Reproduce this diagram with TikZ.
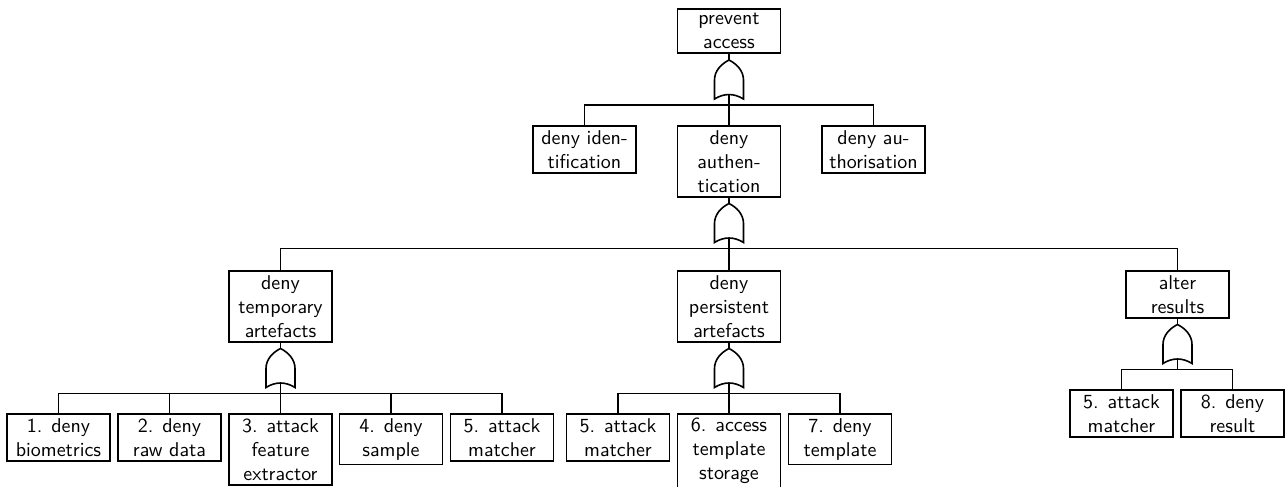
\documentclass[tikz,border=0pt]{standalone}
\usepackage{fontspec}
\usetikzlibrary{calc}
\tikzset{
  event/.style={draw, line width=0.8pt, align=center, anchor=north,
    minimum width=51.5pt, inner xsep=2pt, inner ysep=2.2pt, font=\sffamily},
  wire/.style={line width=0.8pt},
  orgate/.pic={
    \draw[wire] (0,0) .. controls (-8,4) and (-14.5,11) .. (-14.5,20)
      -- (-14.5,39) .. controls (-5,33) and (5,33) .. (14.5,39)
      -- (14.5,20) .. controls (14.5,11) and (8,4) .. (0,0) -- cycle;
  }
}
% OR gate hanging below an event, with its output bar
\newcommand\orbranch[1]{%
  \coordinate (#1-top) at ($(#1.south)+(0,6)$);
  \coordinate (#1-in) at ($(#1.south)+(0,40.5)$);
  \coordinate (#1-bar) at ($(#1.south)+(0,51)$);
  \draw[wire] (#1.south) -- (#1-top);
  \pic at (#1-top) {orgate};
  \draw[wire] (#1-in) -- (#1-bar);
}
\begin{document}
\begin{tikzpicture}[x=0.5pt, y=-0.5pt]
\useasboundingbox (0,0) rectangle (1287,487);

% top event
\node[event] (pa) at (729,8) {prevent\\access};
\orbranch{pa}

% second level
\node[event] (di) at (584.5,125) {deny iden-\\tification};
\node[event] (da) at (729,125) {deny\\authen-\\tication};
\node[event] (dz) at (873.5,125) {deny au-\\thorisation};
\foreach \c in {di,da,dz} \draw[wire] (\c.north) |- (pa-bar);
\orbranch{da}

% third level
\node[event] (dt) at (280.5,270) {deny\\temporary\\artefacts};
\node[event] (dp) at (729,270) {deny\\persistent\\artefacts};
\node[event] (ar) at (1177.5,270) {alter\\results};
\foreach \c in {dt,dp,ar} \draw[wire] (\c.north) |- (da-bar);
\orbranch{dt}
\orbranch{dp}
\orbranch{ar}

% leaves under temporary artefacts
\node[event] (t1) at (58.5,413) {1. deny\\biometrics};
\node[event] (t2) at (169.5,413) {2. deny\\raw data};
\node[event] (t3) at (280.5,413) {3. attack\\feature\\extractor};
\node[event] (t4) at (391,413) {4. deny\\sample};
\node[event] (t5) at (502,413) {5. attack\\matcher};
\foreach \c in {t1,t2,t3,t4,t5} \draw[wire] (\c.north) |- (dt-bar);

% leaves under persistent artefacts
\node[event] (p5) at (618,413) {5. attack\\matcher};
\node[event] (p6) at (729,413) {6. access\\template\\storage};
\node[event] (p7) at (840,413) {7. deny\\template};
\foreach \c in {p5,p6,p7} \draw[wire] (\c.north) |- (dp-bar);

% leaves under altered results
\node[event] (r5) at (1121.5,389) {5. attack\\matcher};
\node[event] (r8) at (1232.5,389) {8. deny\\result};
\foreach \c in {r5,r8} \draw[wire] (\c.north) |- (ar-bar);
\end{tikzpicture}
\end{document}
